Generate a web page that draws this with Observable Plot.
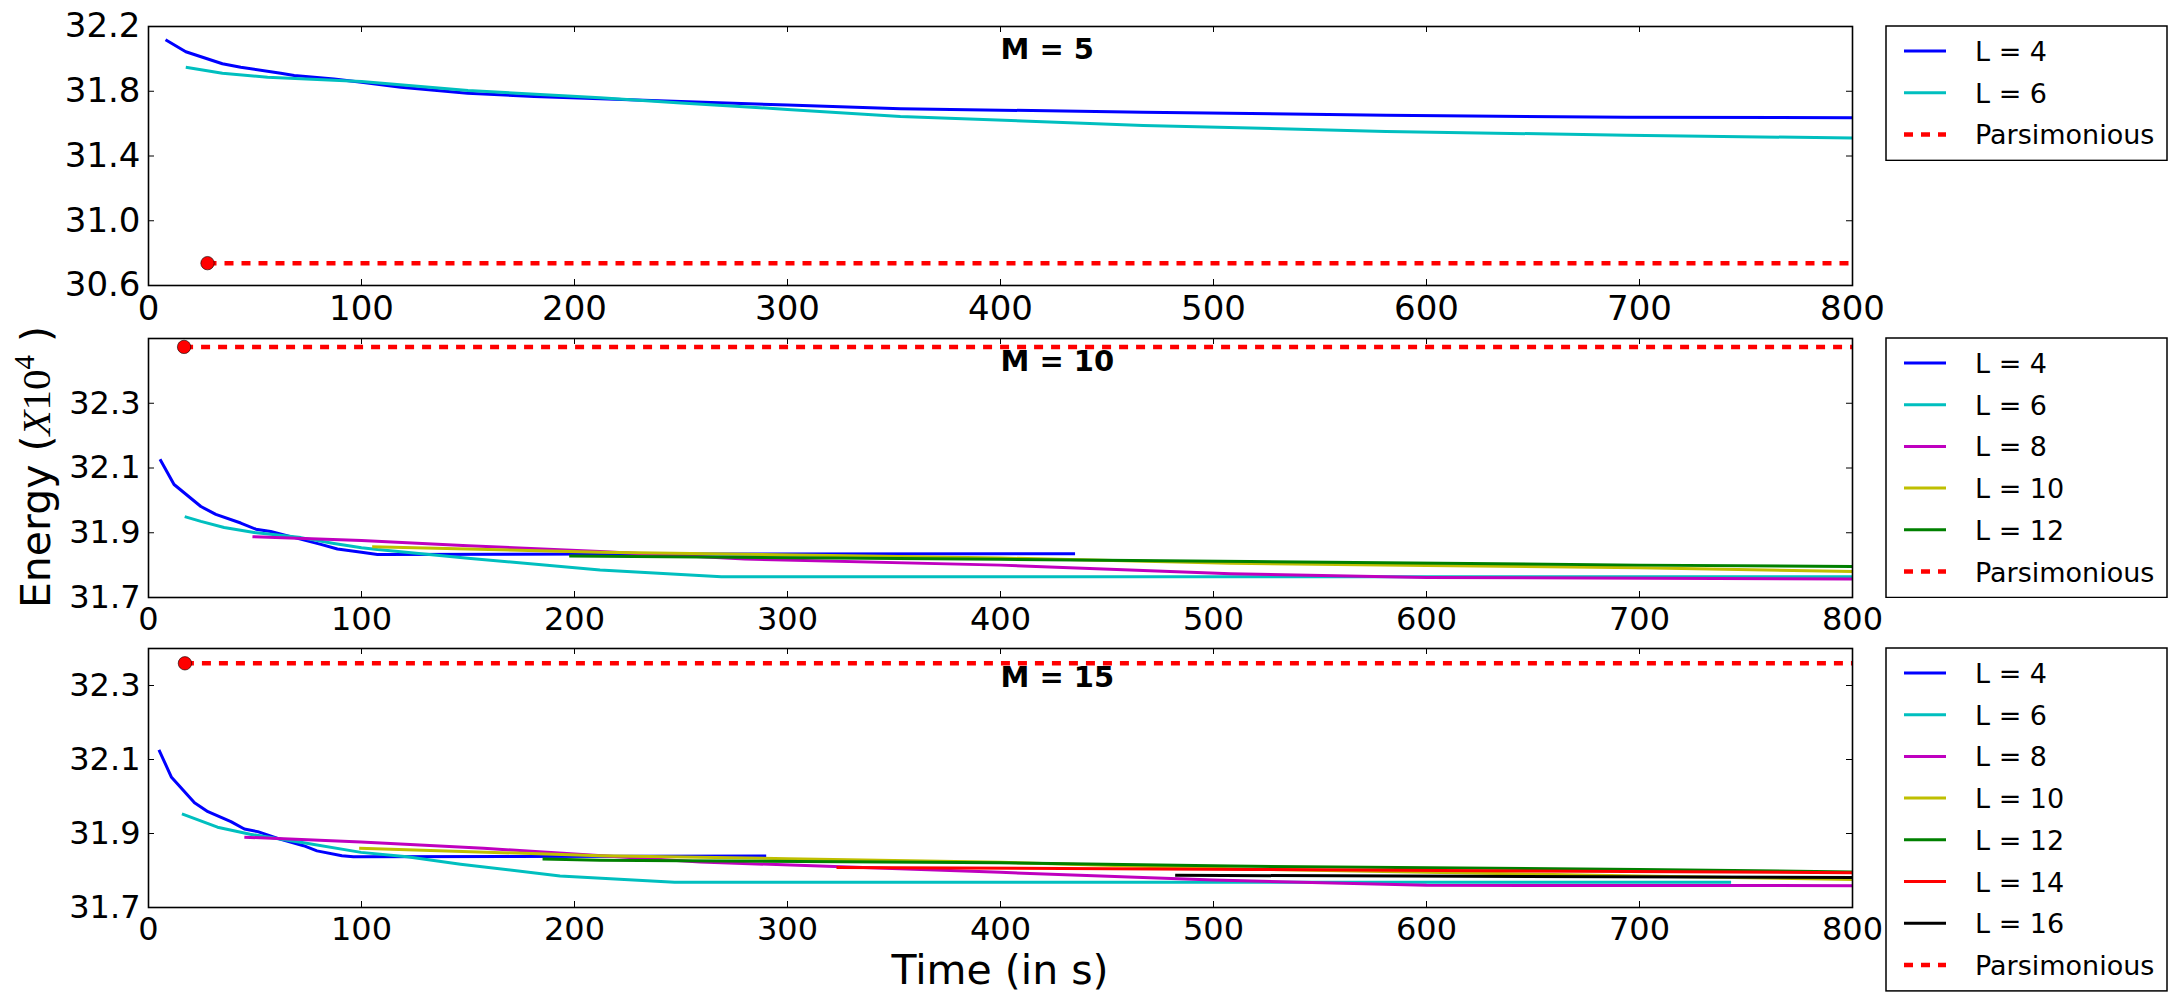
<!DOCTYPE html>
<html><head><meta charset="utf-8">
<script src="https://cdn.jsdelivr.net/npm/d3@7"></script>
<script src="https://cdn.jsdelivr.net/npm/@observablehq/plot@0.6"></script>
<style>
body{margin:0;background:#fff;}
#fig{position:relative;width:2176px;height:1003px;overflow:hidden;background:#fff;font-family:"DejaVu Sans",sans-serif;}
#fig > svg{position:absolute;left:0;}
.legend{position:absolute;left:1886px;}
</style></head><body><div id="fig"></div>
<script>
// ---------- data ----------
const xTicks = [0, 100, 200, 300, 400, 500, 600, 700, 800];
const xMax = 800;
const lValues = [4, 6, 8, 10, 12, 14, 16];
const lColors = ["#0000ff", "#00bfbf", "#bf00bf", "#bfbf00", "#008000", "#ff0000", "#000000"];
const parsColor = "#ff0000";
const panelM = [5, 10, 15];
const yTicksM5 = [30.6, 31.0, 31.4, 31.8, 32.2];
const yTicksM10 = [31.7, 31.9, 32.1, 32.3];
const yTicksM15 = [31.7, 31.9, 32.1, 32.3];
const parsTime = [27.7, 16.7, 17.1];
const parsEnergy = [30.738, 32.474, 32.36];

// M = 5
const m5_L4_t = [8, 17.5, 34.7, 43.3, 62.1, 68.4, 87.1, 100, 118.5, 149.8, 181, 212, 250, 300, 353, 467, 581, 694, 800];
const m5_L4_e = [32.118, 32.044, 31.970, 31.948, 31.911, 31.897, 31.876, 31.855, 31.825, 31.788, 31.768, 31.753, 31.737, 31.715, 31.692, 31.671, 31.651, 31.640, 31.636];
const m5_L6_t = [17.5, 34.7, 55.9, 100, 150, 212, 250, 300, 353, 467, 581, 694, 800];
const m5_L6_e = [31.948, 31.911, 31.886, 31.860, 31.804, 31.760, 31.728, 31.688, 31.644, 31.589, 31.552, 31.528, 31.511];

// M = 10
const m10_L4_t = [5.4, 12, 24.6, 31.6, 43.3, 50.4, 57.4, 66.8, 80.9, 88.7, 100, 107.5, 212, 435];
const m10_L4_e = [32.127, 32.049, 31.981, 31.957, 31.930, 31.911, 31.904, 31.888, 31.864, 31.850, 31.840, 31.833, 31.834, 31.835];
const m10_L6_t = [17, 24.6, 35.5, 49.6, 71.5, 87.1, 100, 107.5, 150, 212, 269, 800];
const m10_L6_e = [31.950, 31.935, 31.916, 31.901, 31.885, 31.867, 31.854, 31.848, 31.821, 31.785, 31.764, 31.764];
const m10_L8_t = [48.8, 100, 150, 212, 280, 400, 508, 600, 800];
const m10_L8_e = [31.888, 31.876, 31.860, 31.842, 31.819, 31.800, 31.773, 31.762, 31.757];
const m10_L10_t = [105, 212, 400, 508, 600, 700, 800];
const m10_L10_e = [31.857, 31.840, 31.822, 31.806, 31.799, 31.792, 31.780];
const m10_L12_t = [197.5, 400, 517, 700, 800];
const m10_L12_e = [31.828, 31.818, 31.811, 31.800, 31.796];

// M = 15
const m15_L4_t = [4.9, 10.8, 21.6, 27.9, 38.7, 45, 51.3, 62.1, 72.8, 79.1, 90.8, 96.2, 290];
const m15_L4_e = [32.126, 32.052, 31.983, 31.959, 31.932, 31.912, 31.905, 31.884, 31.867, 31.853, 31.840, 31.837, 31.839];
const m15_L6_t = [15.7, 32.4, 47.7, 72.8, 99.8, 121.4, 146.5, 193.2, 247, 743];
const m15_L6_e = [31.953, 31.917, 31.898, 31.875, 31.849, 31.837, 31.817, 31.785, 31.768, 31.768];
const m15_L8_t = [45, 99.8, 157.3, 259, 400, 500, 600, 800];
const m15_L8_e = [31.890, 31.877, 31.860, 31.823, 31.795, 31.774, 31.760, 31.759];
const m15_L10_t = [98.9, 212, 300, 400, 508, 600, 700, 800];
const m15_L10_e = [31.860, 31.840, 31.832, 31.822, 31.805, 31.795, 31.785, 31.776];
const m15_L12_t = [185, 212, 400, 508, 700, 800];
const m15_L12_e = [31.831, 31.828, 31.821, 31.812, 31.803, 31.796];
const m15_L14_t = [323, 517, 800];
const m15_L14_e = [31.808, 31.803, 31.794];
const m15_L16_t = [482, 800];
const m15_L16_e = [31.787, 31.781];

// ---------- layout / rendering ----------
const panels = [
  {yDomain: [30.6, 32.2], yTicks: yTicksM5, titleY: 32.0, top: 25.7, font: 34,
   series: [[4, m5_L4_t, m5_L4_e], [6, m5_L6_t, m5_L6_e]]},
  {yDomain: [31.7, 32.5], yTicks: yTicksM10, titleY: 32.4, top: 337.7, font: 32,
   series: [[4, m10_L4_t, m10_L4_e], [6, m10_L6_t, m10_L6_e], [8, m10_L8_t, m10_L8_e],
            [10, m10_L10_t, m10_L10_e], [12, m10_L12_t, m10_L12_e]]},
  {yDomain: [31.7, 32.4], yTicks: yTicksM15, titleY: 32.295, top: 648, font: 32,
   series: [[4, m15_L4_t, m15_L4_e], [6, m15_L6_t, m15_L6_e], [8, m15_L8_t, m15_L8_e],
            [10, m15_L10_t, m15_L10_e], [12, m15_L12_t, m15_L12_e], [14, m15_L14_t, m15_L14_e],
            [16, m15_L16_t, m15_L16_e]]}
];

const fig = document.getElementById("fig");
const W = 1860, mL = 148, mR = 8, mT = 10, mB = 42, PH = 259;
const PW = W - mL - mR;
const tickLen = 6;

panels.forEach((p, i) => {
  const rows = p.series.flatMap(([L, t, e]) => t.map((ti, j) => ({L, t: ti, e: e[j]})));
  const parsLine = [{t: parsTime[i], e: parsEnergy[i]}, {t: xMax, e: parsEnergy[i]}];
  const parsDot = [{t: parsTime[i], e: parsEnergy[i]}];
  const chart = Plot.plot({
    width: W, height: PH + mT + mB,
    marginLeft: mL, marginRight: mR, marginTop: mT, marginBottom: mB,
    x: {domain: [0, xMax]},
    y: {domain: p.yDomain},
    color: {type: "ordinal", domain: lValues, range: lColors},
    style: {fontFamily: "DejaVu Sans", fontSize: p.font + "px", color: "black", background: "transparent", maxWidth: "none", overflow: "visible"},
    marks: [
      Plot.line(rows, {x: "t", y: "e", z: "L", stroke: "L", strokeWidth: 3, strokeLinejoin: "round", strokeLinecap: "butt"}),
      Plot.line(parsLine, {x: "t", y: "e", stroke: parsColor, strokeWidth: 4.5, strokeDasharray: "9,8", strokeLinecap: "butt"}),
      Plot.dot(parsDot, {x: "t", y: "e", r: 6.7, fill: parsColor, stroke: "black", strokeWidth: 0.6}),
      Plot.text([`M = ${panelM[i]}`], {x: () => 400, y: () => p.titleY, text: d => d, textAnchor: "start", lineAnchor: "bottom", fontWeight: "bold", fontSize: 29, fill: "black"}),
      Plot.tickX(xTicks, {x: d => d, insetTop: PH - tickLen, stroke: "black", strokeWidth: 1}),
      Plot.tickX(xTicks, {x: d => d, insetBottom: PH - tickLen, stroke: "black", strokeWidth: 1}),
      Plot.tickY(p.yTicks, {y: d => d, insetRight: PW - tickLen, stroke: "black", strokeWidth: 1}),
      Plot.tickY(p.yTicks, {y: d => d, insetLeft: PW - tickLen, stroke: "black", strokeWidth: 1}),
      Plot.axisX({ticks: xTicks, tickSize: 0, tickPadding: 10, tickFormat: d => String(d), fontSize: p.font, label: null}),
      Plot.axisY({ticks: p.yTicks, tickSize: 0, tickPadding: 8, tickFormat: d3.format(".1f"), fontSize: p.font, label: null}),
      Plot.frame({stroke: "black", strokeWidth: 1.6})
    ]
  });
  chart.style.position = "absolute";
  chart.style.left = "0px";
  chart.style.top = (p.top - mT) + "px";
  fig.appendChild(chart);

  // legend
  const Ls = p.series.map(s => s[0]);
  const n = Ls.length + 1;
  const rowH = 41.7, padT = 25, padB = 26;
  const lh = padT + (n - 1) * rowH + padB;
  const lw = 281;
  const ns = "http://www.w3.org/2000/svg";
  const svg = document.createElementNS(ns, "svg");
  svg.setAttribute("width", lw + 2);
  svg.setAttribute("height", lh + 2);
  svg.setAttribute("class", "legend");
  svg.style.position = "absolute";
  svg.style.left = "1885px";
  svg.style.top = (p.top - 1) + "px";
  const rect = document.createElementNS(ns, "rect");
  rect.setAttribute("x", 1); rect.setAttribute("y", 1);
  rect.setAttribute("width", lw); rect.setAttribute("height", lh);
  rect.setAttribute("fill", "white"); rect.setAttribute("stroke", "black"); rect.setAttribute("stroke-width", 1.5);
  svg.appendChild(rect);
  const entries = Ls.map(L => ({label: `L = ${L}`, color: lColors[lValues.indexOf(L)], dash: null, w: 3}))
    .concat([{label: "Parsimonious", color: parsColor, dash: "9,8", w: 4.5}]);
  entries.forEach((en, k) => {
    const y = 1 + padT + k * rowH;
    const ln = document.createElementNS(ns, "line");
    ln.setAttribute("x1", 19); ln.setAttribute("x2", 61);
    ln.setAttribute("y1", y); ln.setAttribute("y2", y);
    ln.setAttribute("stroke", en.color); ln.setAttribute("stroke-width", en.w);
    if (en.dash) ln.setAttribute("stroke-dasharray", en.dash);
    svg.appendChild(ln);
    const tx = document.createElementNS(ns, "text");
    tx.setAttribute("x", 90); tx.setAttribute("y", y + 10);
    tx.setAttribute("font-family", "DejaVu Sans"); tx.setAttribute("font-size", 27);
    tx.textContent = en.label;
    svg.appendChild(tx);
  });
  fig.appendChild(svg);
});

// axis titles
const ov = document.createElementNS("http://www.w3.org/2000/svg", "svg");
ov.setAttribute("width", 2176); ov.setAttribute("height", 1003);
ov.style.position = "absolute"; ov.style.left = "0px"; ov.style.top = "0px"; ov.style.pointerEvents = "none";
ov.innerHTML = `
<text transform="translate(50,467) rotate(-90)" text-anchor="middle" font-family="DejaVu Sans" font-size="41">Energy (<tspan font-family="Liberation Serif" font-style="italic">X</tspan><tspan font-family="Liberation Serif">10</tspan><tspan font-family="Liberation Serif" font-size="29" dy="-16">4</tspan><tspan dy="16"> )</tspan></text>
<text x="1000" y="984" text-anchor="middle" font-family="DejaVu Sans" font-size="41">Time (in s)</text>`;
fig.appendChild(ov);
</script></body></html>
